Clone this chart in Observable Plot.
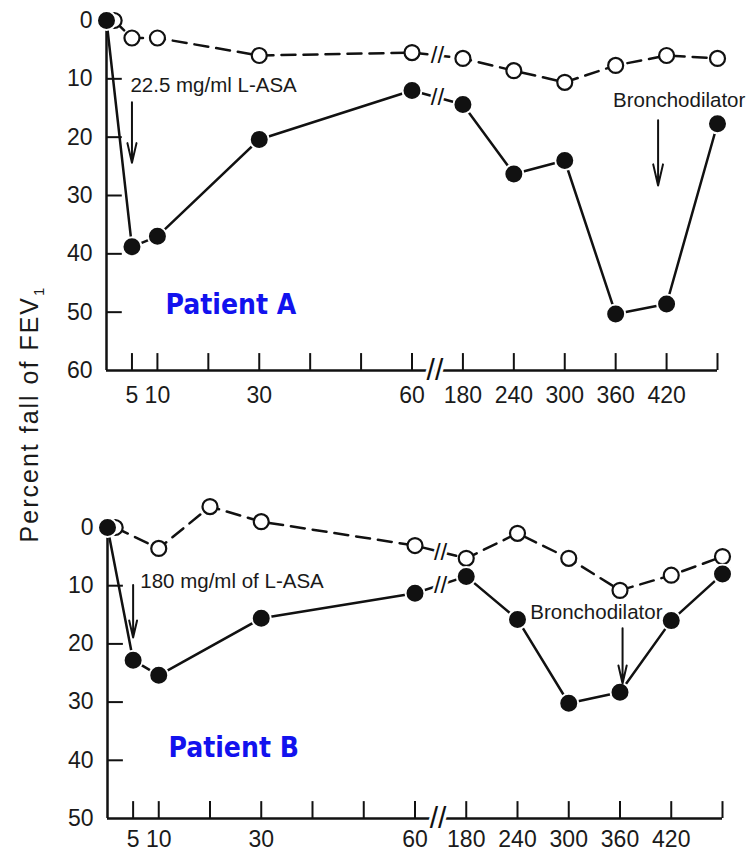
<!DOCTYPE html>
<html>
<head>
<meta charset="utf-8">
<script src="https://cdn.jsdelivr.net/npm/d3@7"></script>
<script src="https://cdn.jsdelivr.net/npm/@observablehq/plot@0.6"></script>
<style>
  html, body { margin: 0; padding: 0; background: #fff; }
  #wrap { position: relative; width: 750px; height: 852px; overflow: hidden; background: #fff; }
  #top { position: absolute; left: 0; top: 0; }
  #bottom { position: absolute; left: 0; top: 420px; }
  #ylab { position: absolute; left: 31px; top: 414px; transform: translate(-50%, -50%) rotate(-90deg);
          white-space: nowrap; font-family: "Liberation Sans", Arial, sans-serif; font-size: 25px;
          letter-spacing: 2px; color: #1a1a1a; }
  #ylab sub { font-size: 15px; }
</style>
</head>
<body>
<div id="wrap">
  <div id="top"></div>
  <div id="bottom"></div>
  <div id="ylab">Percent fall of FEV<sub>1</sub></div>
</div>
<script>
// ---------- data (minutes after challenge, percent fall of FEV1) ----------
// Patient A
const timesAOpen   = [1.5, 5, 10, 30, 60, 180, 240, 300, 360, 420, 480];
const openA        = [0, 3, 3, 6, 5.5, 6.5, 8.6, 10.6, 7.7, 6, 6.5];
const timesAFilled = [0, 5, 10, 30, 60, 180, 240, 300, 360, 420, 480];
const filledA      = [0, 38.8, 37, 20.4, 12, 14.4, 26.3, 24, 50.3, 48.6, 17.7];
// Patient B
const timesBOpen   = [1.5, 10, 20, 30, 60, 180, 240, 300, 360, 420, 480];
const openB        = [0, 3.6, -3.6, -1, 3.1, 5.3, 1, 5.3, 10.8, 8.2, 5];
const timesBFilled = [0, 5, 10, 30, 60, 180, 240, 300, 360, 420, 480];
const filledB      = [0, 22.8, 25.4, 15.6, 11.3, 8.4, 15.8, 30.2, 28.3, 16, 8];

// ticks
const xTickMarks  = [5, 10, 20, 30, 40, 50, 60, 180, 240, 300, 360, 420, 480];
const xTickLabels = [5, 10, 30, 60, 180, 240, 300, 360, 420];
const yTicksA = [0, 10, 20, 30, 40, 50, 60];
const yTicksB = [0, 10, 20, 30, 40, 50];

// annotations (data units: minutes, percent); text starts at t
const notesA = [
  {label: "22.5 mg/ml L-ASA", t: 4.7, v: 11.1, at: 5, from: 14, to: 24.4},
  {label: "Bronchodilator", t: 357, v: 13.7, at: 410, from: 17.1, to: 28.3}
];
const notesB = [
  {label: "180 mg/ml of L-ASA", t: 6.4, v: 9.3, at: 5, from: 9.9, to: 18.9},
  {label: "Bronchodilator", t: 255, v: 14.6, at: 363, from: 17.3, to: 26.8}
];
const patientA = [{label: "Patient A", t: 11.6, v: 48.7}];
const patientB = [{label: "Patient B", t: 11.9, v: 37.9}];

// broken time axis: 0–60 min linear, then 180–480 min compressed (60 min per 10 units)
function u(t) { return t <= 60 ? t : 70 + (t - 180) / 6; }
const labelOf = new Map(xTickLabels.map(t => [u(t), String(t)]));

const rows = (ts, vs) => ts.map((t, i) => ({x: u(t), v: vs[i]}));
function breakPoint(ts, vs) {
  const a = vs[ts.indexOf(60)], b = vs[ts.indexOf(180)];
  return {x: (u(60) + u(180)) / 2, v: (a + b) / 2};
}

const FONT = "Liberation Sans, Arial, sans-serif";

function panel({openT, openV, filledT, filledV, yMax, yTicks, yTickMarks, notes, patient,
                height, marginTop, marginBottom, marginLeft, marginRight, xPad}) {
  const openRows = rows(openT, openV);
  const filledRows = rows(filledT, filledV);
  const breaks = [breakPoint(openT, openV), breakPoint(filledT, filledV)];
  const tickLen = 2.9;
  return Plot.plot({
    width: 750, height, marginTop, marginBottom, marginLeft, marginRight,
    style: {fontFamily: FONT, fontSize: "23px", color: "#1a1a1a", background: "transparent", overflow: "visible"},
    x: {domain: [0, 120], ticks: xTickLabels.map(u), tickFormat: d => labelOf.get(d) ?? "",
        tickSize: 0, tickPadding: xPad, label: null},
    y: {domain: [0, yMax], reverse: true, ticks: yTicks, tickSize: 0, tickPadding: 14, label: null},
    marks: [
      // axes lines
      Plot.ruleX([0], {y1: 0, y2: yMax, stroke: "#111", strokeWidth: 2.5}),
      Plot.ruleY([yMax], {x1: 0, x2: 120, stroke: "#111", strokeWidth: 2.5}),
      // inward tick marks
      Plot.ruleY(yTickMarks, {x1: 0, x2: 3.1, stroke: "#111", strokeWidth: 2}),
      Plot.ruleX(xTickMarks.map(u), {y1: yMax, y2: yMax - tickLen, stroke: "#111", strokeWidth: 2}),
      // axis break
      Plot.text([u(60) + 4.5], {x: d => d, y: yMax, text: () => "//", fontSize: 30, fill: "#111",
        stroke: "white", strokeWidth: 6, paintOrder: "stroke", fontFamily: FONT}),
      // series lines
      Plot.line(openRows, {x: "x", y: "v", stroke: "#111", strokeWidth: 2.5, strokeDasharray: "14,8"}),
      Plot.line(filledRows, {x: "x", y: "v", stroke: "#111", strokeWidth: 2.5}),
      // line breaks
      Plot.text(breaks, {x: "x", y: "v", text: () => "//", fontSize: 24, fill: "#111",
        stroke: "white", strokeWidth: 5, paintOrder: "stroke", fontFamily: FONT}),
      // points
      Plot.dot(openRows, {x: "x", y: "v", r: 7.5, fill: "white", stroke: "#111", strokeWidth: 2.2}),
      Plot.dot(filledRows, {x: "x", y: "v", r: 9.5, fill: "#111", stroke: "white", strokeWidth: 2}),
      // annotations
      Plot.text(notes, {x: d => u(d.t), y: "v", text: "label", textAnchor: "start",
        fontSize: 20.5, fill: "#1a1a1a", fontFamily: FONT}),
      Plot.arrow(notes, {x1: d => u(d.at), x2: d => u(d.at), y1: "from", y2: "to",
        stroke: "#111", strokeWidth: 2, headLength: 20, headAngle: 26}),
      Plot.text(patient, {x: d => u(d.t), y: "v", text: "label", textAnchor: "start",
        fontSize: 28, fontWeight: "bold", fill: "#1212ee",
        fontFamily: "DejaVu Sans Condensed, DejaVu Sans, sans-serif"})
    ]
  });
}

document.getElementById("top").append(panel({
  openT: timesAOpen, openV: openA, filledT: timesAFilled, filledV: filledA,
  yMax: 60, yTicks: yTicksA, yTickMarks: [10, 20, 30, 40, 50], notes: notesA, patient: patientA,
  height: 420, marginTop: 20, marginBottom: 50, marginLeft: 106, marginRight: 33, xPad: 16
}));
document.getElementById("bottom").append(panel({
  openT: timesBOpen, openV: openB, filledT: timesBFilled, filledV: filledB,
  yMax: 50, yTicks: yTicksB, yTickMarks: [10, 20, 30, 40], notes: notesB, patient: patientB,
  height: 432, marginTop: 107, marginBottom: 34, marginLeft: 107, marginRight: 28, xPad: 12
}));
</script>
</body>
</html>
